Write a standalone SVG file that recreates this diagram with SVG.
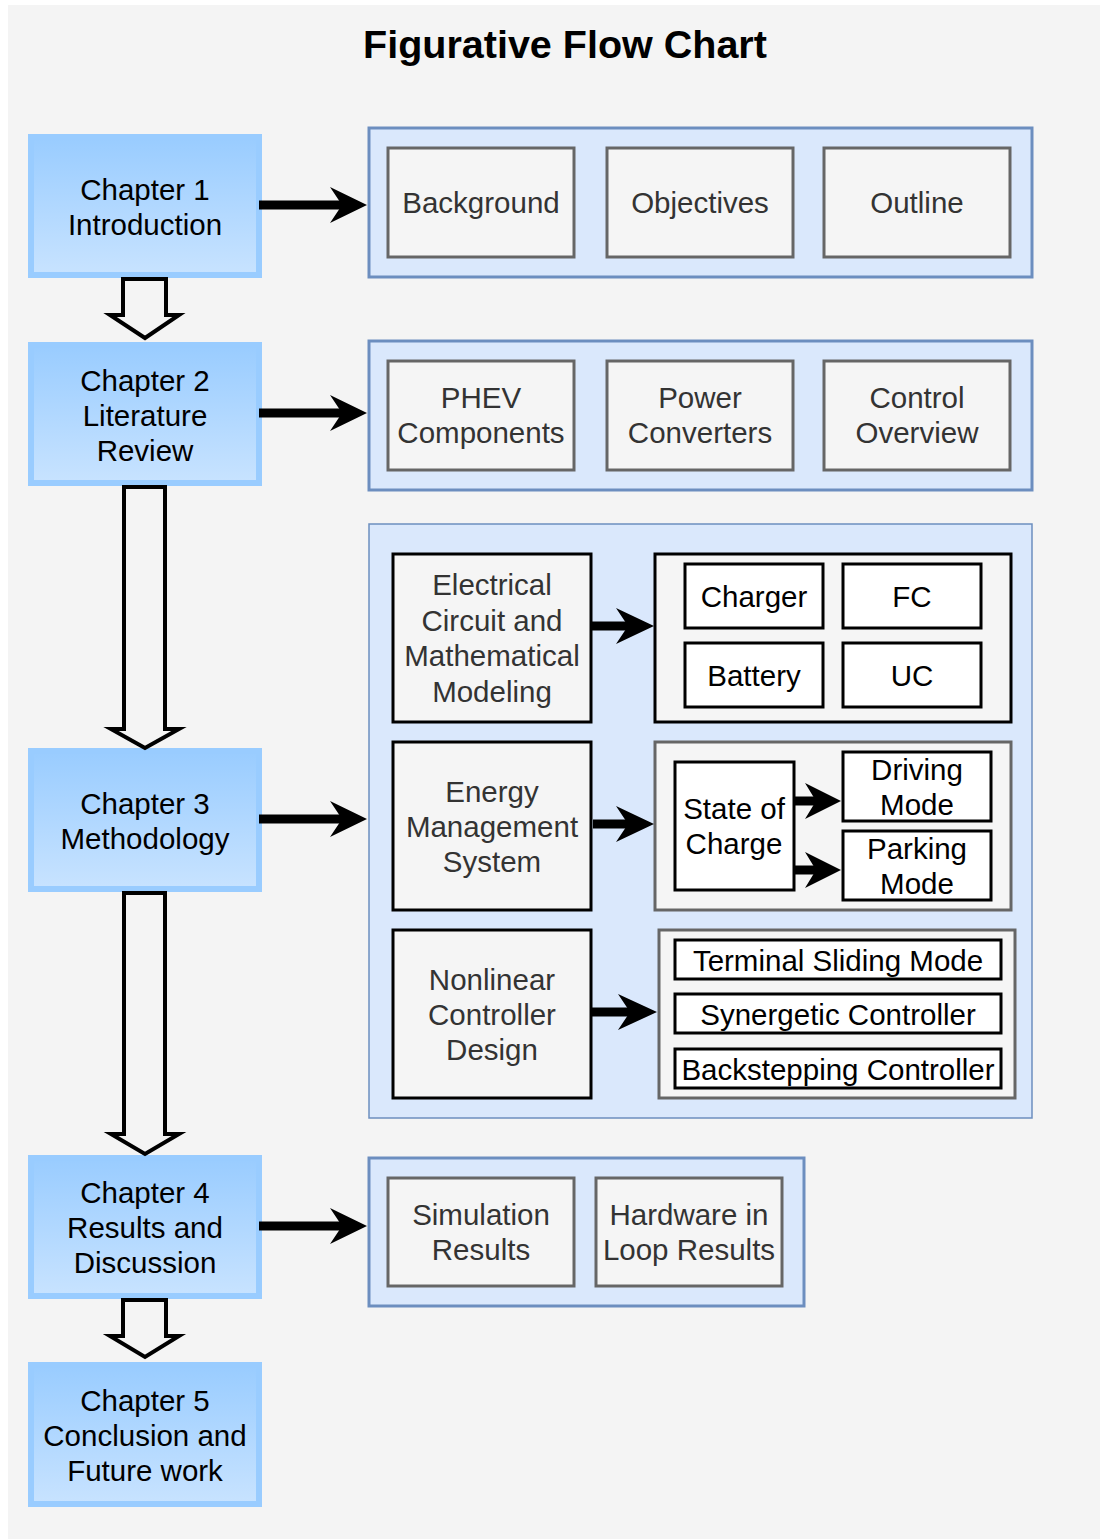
<svg xmlns="http://www.w3.org/2000/svg" width="1100" height="1539" viewBox="0 0 1100 1539">
<defs>
<linearGradient id="chg" x1="0" y1="0" x2="0" y2="1">
<stop offset="0" stop-color="#99ccff"/>
<stop offset="1" stop-color="#c8e3ff"/>
</linearGradient>
<style>
text{font-family:"Liberation Sans",Arial,sans-serif;font-size:29.5px;text-anchor:middle}
.ch{fill:url(#chg);stroke:#99ccff;stroke-width:6}
.chT{fill:#000}
.grp{fill:#dae8fc;stroke:#6c8ebf;stroke-width:3}
.grpThin{fill:#dae8fc;stroke:#6c8ebf;stroke-width:1.5}
.box{fill:#f5f5f5;stroke:#666;stroke-width:3}
.boxK{fill:#f5f5f5;stroke:#000;stroke-width:3}
.wb{fill:#fff;stroke:#000;stroke-width:3}
.gT{fill:#333}
.kT{fill:#000}
.blk{fill:#f4f4f4;stroke:#000;stroke-width:4;stroke-linejoin:miter}
.shaft{stroke:#000;stroke-width:9}
.head{fill:#000}
</style>
</defs>
<rect x="8" y="5" width="1092" height="1534" fill="#f4f4f4"/>
<text x="565" y="58" style="font-size:39.5px;font-weight:bold" fill="#000">Figurative Flow Chart</text>

<g id="ch1"><rect class="ch" x="31" y="137" width="228" height="138"/>
<text class="chT" x="145" y="200">Chapter 1</text><text class="chT" x="145" y="235">Introduction</text></g>
<g id="ch2"><rect class="ch" x="31" y="345" width="228" height="138"/>
<text class="chT" x="145" y="391">Chapter 2</text><text class="chT" x="145" y="426">Literature</text><text class="chT" x="145" y="461">Review</text></g>
<g id="ch3"><rect class="ch" x="31" y="751" width="228" height="138"/>
<text class="chT" x="145" y="814">Chapter 3</text><text class="chT" x="145" y="849">Methodology</text></g>
<g id="ch4"><rect class="ch" x="31" y="1158" width="228" height="138"/>
<text class="chT" x="145" y="1203">Chapter 4</text><text class="chT" x="145" y="1238">Results and</text><text class="chT" x="145" y="1273">Discussion</text></g>
<g id="ch5"><rect class="ch" x="31" y="1365" width="228" height="139"/>
<text class="chT" x="145" y="1411">Chapter 5</text><text class="chT" x="145" y="1446">Conclusion and</text><text class="chT" x="145" y="1481">Future work</text></g>

<g id="grp1"><rect class="grp" x="369" y="128" width="663" height="149"/></g>
<g id="background"><rect class="box" x="388" y="148" width="186" height="109"/><text class="gT" x="481" y="213">Background</text></g>
<g id="objectives"><rect class="box" x="607" y="148" width="186" height="109"/><text class="gT" x="700" y="213">Objectives</text></g>
<g id="outline"><rect class="box" x="824" y="148" width="186" height="109"/><text class="gT" x="917" y="213">Outline</text></g>

<g id="grp2"><rect class="grp" x="369" y="341" width="663" height="149"/></g>
<g id="phev"><rect class="box" x="388" y="361" width="186" height="109"/><text class="gT" x="481" y="408">PHEV</text><text class="gT" x="481" y="443">Components</text></g>
<g id="power"><rect class="box" x="607" y="361" width="186" height="109"/><text class="gT" x="700" y="408">Power</text><text class="gT" x="700" y="443">Converters</text></g>
<g id="control"><rect class="box" x="824" y="361" width="186" height="109"/><text class="gT" x="917" y="408">Control</text><text class="gT" x="917" y="443">Overview</text></g>

<g id="grp3"><rect class="grpThin" x="369" y="524" width="663" height="594"/></g>
<g id="electrical"><rect class="boxK" x="393" y="554" width="198" height="168"/>
<text class="gT" x="492" y="595">Electrical</text><text class="gT" x="492" y="631">Circuit and</text><text class="gT" x="492" y="666">Mathematical</text><text class="gT" x="492" y="702">Modeling</text></g>
<g id="components"><rect class="boxK" x="655" y="554" width="356" height="168"/></g>
<g id="charger"><rect class="wb" x="685" y="564" width="138" height="64"/><text class="kT" x="754" y="607">Charger</text></g>
<g id="fc"><rect class="wb" x="843" y="564" width="138" height="64"/><text class="kT" x="912" y="607">FC</text></g>
<g id="battery"><rect class="wb" x="685" y="643" width="138" height="64"/><text class="kT" x="754" y="686">Battery</text></g>
<g id="uc"><rect class="wb" x="843" y="643" width="138" height="64"/><text class="kT" x="912" y="686">UC</text></g>

<g id="ems"><rect class="boxK" x="393" y="742" width="198" height="168"/>
<text class="gT" x="492" y="802">Energy</text><text class="gT" x="492" y="837">Management</text><text class="gT" x="492" y="872">System</text></g>
<g id="emsgroup"><rect class="box" x="655" y="742" width="356" height="168"/></g>
<g id="soc"><rect class="wb" x="675" y="762" width="119" height="128"/><text class="kT" x="734" y="819">State of</text><text class="kT" x="734" y="854">Charge</text></g>
<g id="driving"><rect class="wb" x="843" y="752" width="148" height="69"/><text class="kT" x="917" y="780">Driving</text><text class="kT" x="917" y="815">Mode</text></g>
<g id="parking"><rect class="wb" x="843" y="831" width="148" height="69"/><text class="kT" x="917" y="859">Parking</text><text class="kT" x="917" y="894">Mode</text></g>

<g id="nonlinear"><rect class="boxK" x="393" y="930" width="198" height="168"/>
<text class="gT" x="492" y="990">Nonlinear</text><text class="gT" x="492" y="1025">Controller</text><text class="gT" x="492" y="1060">Design</text></g>
<g id="ctrlgroup"><rect class="box" x="659" y="930" width="356" height="168"/></g>
<g id="tsm"><rect class="wb" x="675" y="940" width="326" height="39"/><text class="kT" x="838" y="971">Terminal Sliding Mode</text></g>
<g id="syn"><rect class="wb" x="675" y="994" width="326" height="39"/><text class="kT" x="838" y="1025">Synergetic Controller</text></g>
<g id="back"><rect class="wb" x="675" y="1049" width="326" height="39"/><text class="kT" x="838" y="1080">Backstepping Controller</text></g>

<g id="grp4"><rect class="grp" x="369" y="1158" width="435" height="148"/></g>
<g id="sim"><rect class="box" x="388" y="1178" width="186" height="108"/><text class="gT" x="481" y="1225">Simulation</text><text class="gT" x="481" y="1260">Results</text></g>
<g id="hil"><rect class="box" x="596" y="1178" width="186" height="108"/><text class="gT" x="689" y="1225">Hardware in</text><text class="gT" x="689" y="1260">Loop Results</text></g>

<g id="connectors">
<polygon class="blk" points="123,279 166,279 166,315 179,315 145,338 110,315 123,315"/>
<polygon class="blk" points="124,487 165,487 165,729 179,729 145,748 111,729 124,729"/>
<polygon class="blk" points="124,893 165,893 165,1134 179,1134 145,1154 111,1134 124,1134"/>
<polygon class="blk" points="123,1300 166,1300 166,1336 179,1336 145,1357 110,1336 123,1336"/>
<line class="shaft" x1="259" y1="205" x2="342" y2="205"/>
<polygon class="head" points="367,205 330,187 342,205 330,223"/>
<line class="shaft" x1="259" y1="413" x2="342" y2="413"/>
<polygon class="head" points="367,413 330,395 342,413 330,431"/>
<line class="shaft" x1="259" y1="819" x2="342" y2="819"/>
<polygon class="head" points="367,819 330,801 342,819 330,837"/>
<line class="shaft" x1="259" y1="1226" x2="342" y2="1226"/>
<polygon class="head" points="367,1226 330,1208 342,1226 330,1244"/>
<line class="shaft" x1="592" y1="626" x2="628" y2="626"/>
<polygon class="head" points="654,626 616,608 628,626 616,644"/>
<line class="shaft" x1="593" y1="824" x2="628" y2="824"/>
<polygon class="head" points="654,824 616,806 628,824 616,842"/>
<line class="shaft" x1="592" y1="1012" x2="630" y2="1012"/>
<polygon class="head" points="657,1012 618,994 630,1012 618,1030"/>
<line class="shaft" x1="795" y1="801" x2="816" y2="801"/>
<polygon class="head" points="841,801 805,783 816,801 805,819"/>
<line class="shaft" x1="795" y1="870" x2="816" y2="870"/>
<polygon class="head" points="841,870 805,852 816,870 805,888"/>
</g>
</svg>
